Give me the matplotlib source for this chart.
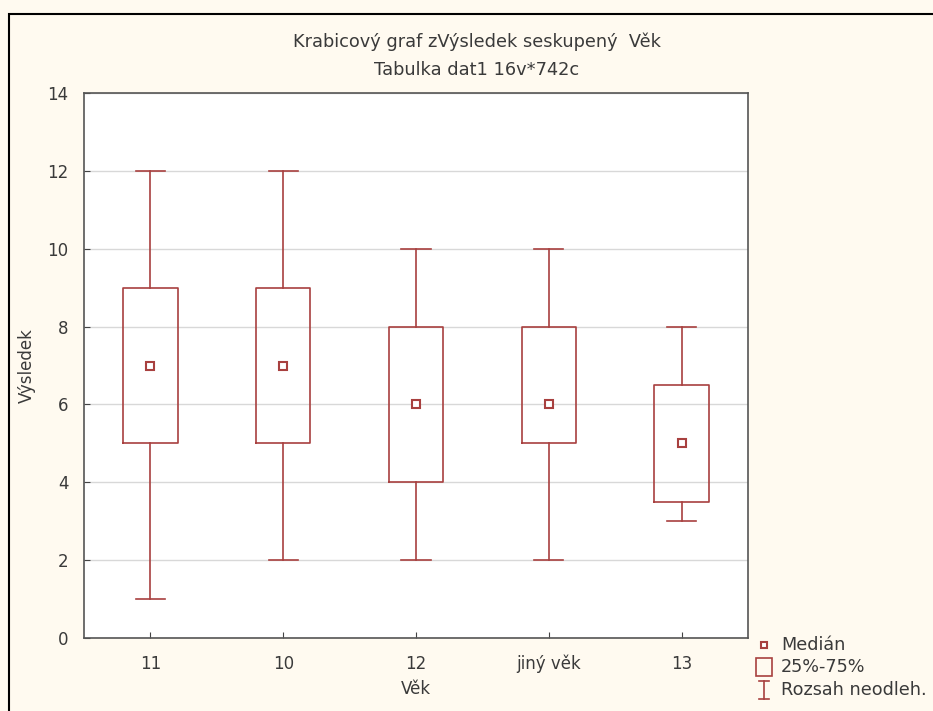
import matplotlib
matplotlib.use("Agg")
import matplotlib.pyplot as plt
from matplotlib.patches import Rectangle
from matplotlib.lines import Line2D

plt.rcParams['font.family'] = ['DejaVu Sans']

skupiny = ['11', '10', '12', 'jiný věk', '13']
minima = [1, 2, 2, 2, 3]
q1 = [5, 5, 4, 5, 3.5]
mediany = [7, 7, 6, 6, 5]
q3 = [9, 9, 8, 8, 6.5]
maxima = [12, 12, 10, 10, 8]

barva = '#a8403f'
text_barva = '#3a3a3a'
fs = 12

fig = plt.figure(figsize=(9.33, 7.11), dpi=100, facecolor='#fffaf0')
ax = fig.add_axes([84/933, 1-638/711, (748-84)/933, (638-93)/711])
ax.set_facecolor('white')

stats = []
for i in range(len(skupiny)):
    stats.append({'med': mediany[i], 'q1': q1[i], 'q3': q3[i],
                  'whislo': minima[i], 'whishi': maxima[i], 'label': skupiny[i]})

ax.bxp(stats, positions=range(len(skupiny)), widths=0.41, showfliers=False,
       boxprops=dict(color=barva, lw=1.2),
       whiskerprops=dict(color=barva, lw=1.2),
       capprops=dict(color=barva, lw=1.2),
       medianprops=dict(linewidth=0), capwidths=0.22)
ax.plot(range(len(skupiny)), mediany, ls='none', marker='s', ms=6,
        mfc='white', mec=barva, mew=1.5, zorder=5)

ax.set_xlim(-0.5, 4.5)
ax.set_ylim(0, 14)
ax.set_yticks(range(0, 15, 2))
ax.set_xticks(range(len(skupiny)))
ax.set_xticklabels(skupiny)
for lbl in ax.get_xticklabels():
    if lbl.get_text() == 'jiný věk':
        lbl.set_fontsize(10.5)
ax.yaxis.grid(True, color='#d8d8d8', lw=1)
ax.set_axisbelow(True)
ax.tick_params(colors='#444444', labelcolor=text_barva, labelsize=fs, length=4, direction='in')
ax.tick_params(axis='x', pad=12)
ax.tick_params(axis='y', pad=11)
for s in ax.spines.values():
    s.set_color('#555555')
    s.set_linewidth(1.2)

ax.set_xlabel('Věk', fontsize=fs, color=text_barva, labelpad=5)
ax.set_ylabel('Výsledek', fontsize=fs, color=text_barva, labelpad=8)

fig.text(477/933, 1-42/711, 'Krabicový graf zVýsledek seskupený  Věk', ha='center', va='center',
         fontsize=12.8, color=text_barva)
fig.text(477/933, 1-70/711, 'Tabulka dat1 16v*742c', ha='center', va='center',
         fontsize=12.8, color=text_barva)

# ramecek kolem obrazku
fig.add_artist(Rectangle((9/933, -0.05), 1.0, 1-14/711+0.05, transform=fig.transFigure,
                         fill=False, ec='black', lw=1.5))

# legenda
lx = 764/933
tx = 781/933
fig.add_artist(Line2D([lx], [1-645/711], transform=fig.transFigure, marker='s', ms=5,
                      mfc='white', mec=barva, mew=1.5, ls='none'))
fig.add_artist(Rectangle((lx-8/933, 1-676/711), 16/933, 18/711, transform=fig.transFigure,
                         fill=False, ec=barva, lw=1.2))
fig.add_artist(Line2D([lx, lx], [1-699/711, 1-681/711], transform=fig.transFigure, color=barva, lw=1.2))
fig.add_artist(Line2D([lx-5/933, lx+5/933], [1-699/711]*2, transform=fig.transFigure, color=barva, lw=1.2))
fig.add_artist(Line2D([lx-5/933, lx+5/933], [1-681/711]*2, transform=fig.transFigure, color=barva, lw=1.2))
for y, t in zip([645, 667, 690], ['Medián', '25%-75%', 'Rozsah neodleh.']):
    fig.text(tx, 1-y/711, t, ha='left', va='center', fontsize=12.7, color=text_barva)

fig.savefig('out.png', dpi=100, facecolor=fig.get_facecolor())
